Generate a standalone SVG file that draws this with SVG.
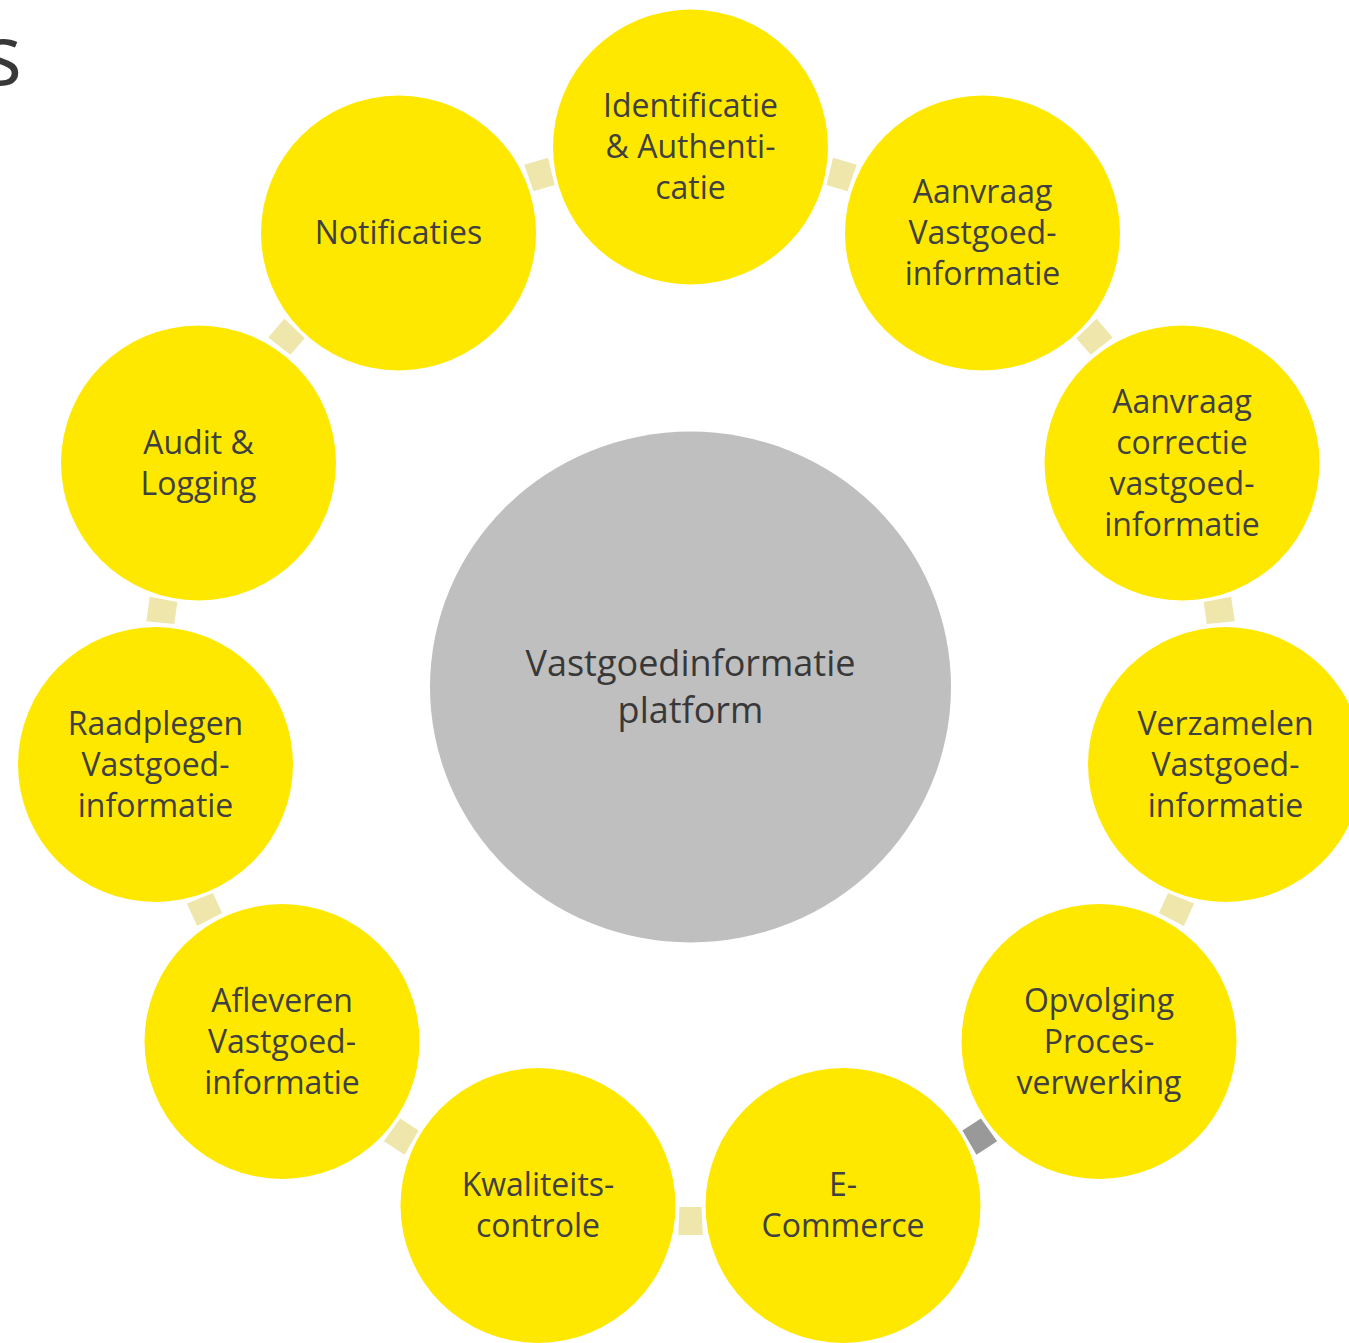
<svg xmlns="http://www.w3.org/2000/svg" xmlns:xlink="http://www.w3.org/1999/xlink" width="1349" height="1343" viewBox="0 0 1349 1343">
<style>
.node{fill:#FFE800;}
.hub{fill:#BFBFBF;}
.lbl{font-family:"Open Sans","Noto Sans","DejaVu Sans",sans-serif;font-size:32px;fill:#404040;text-anchor:middle;}
.hublbl{font-family:"Open Sans","Noto Sans","DejaVu Sans",sans-serif;font-size:36px;fill:#383838;text-anchor:middle;}
.conn{fill:#EEE6AA;}
.conn.gray{fill:#999999;}
.title{font-family:"Open Sans","Noto Sans","DejaVu Sans",sans-serif;font-size:84px;fill:#383838;text-anchor:end;}
</style>
<defs>
<polygon id="c" points="679.5,1207 701.5,1207 702.8,1235 678.2,1235"/>
</defs>
<rect width="1349" height="1343" fill="#FFFFFF"/>
<text class="title" x="22" y="85">s</text>
<g id="connectors">
<use xlink:href="#c" class="conn" transform="rotate(-163.64 690.5 687)"/>
<use xlink:href="#c" class="conn" transform="rotate(-130.91 690.5 687)"/>
<use xlink:href="#c" class="conn" transform="rotate(-98.18 690.5 687)"/>
<use xlink:href="#c" class="conn" transform="rotate(-65.45 690.5 687)"/>
<use xlink:href="#c" class="conn gray" transform="rotate(-32.73 690.5 687)"/>
<use xlink:href="#c" class="conn" transform="rotate(0 690.5 687)"/>
<use xlink:href="#c" class="conn" transform="rotate(32.73 690.5 687)"/>
<use xlink:href="#c" class="conn" transform="rotate(65.45 690.5 687)"/>
<use xlink:href="#c" class="conn" transform="rotate(98.18 690.5 687)"/>
<use xlink:href="#c" class="conn" transform="rotate(130.91 690.5 687)"/>
<use xlink:href="#c" class="conn" transform="rotate(163.64 690.5 687)"/>
</g>
<g id="hub">
<ellipse class="hub" cx="690.5" cy="687" rx="260.5" ry="255.5"/>
<text class="hublbl"><tspan x="690.5" y="676">Vastgoedinformatie</tspan><tspan x="690.5" y="723">platform</tspan></text>
</g>
<g id="n0">
<circle class="node" cx="690.5" cy="147" r="137.5"/>
<text class="lbl"><tspan x="690.5" y="117">Identificatie</tspan><tspan x="690.5" y="158">&amp; Authenti-</tspan><tspan x="690.5" y="199">catie</tspan></text>
</g>
<g id="n1">
<circle class="node" cx="982.5" cy="233" r="137.5"/>
<text class="lbl"><tspan x="982.5" y="203">Aanvraag</tspan><tspan x="982.5" y="244">Vastgoed-</tspan><tspan x="982.5" y="285">informatie</tspan></text>
</g>
<g id="n2">
<circle class="node" cx="1182" cy="463" r="137.5"/>
<text class="lbl"><tspan x="1182" y="412.5">Aanvraag</tspan><tspan x="1182" y="453.5">correctie</tspan><tspan x="1182" y="494.5">vastgoed-</tspan><tspan x="1182" y="535.5">informatie</tspan></text>
</g>
<g id="n3">
<circle class="node" cx="1225.5" cy="764.5" r="137.5"/>
<text class="lbl"><tspan x="1225.5" y="734.5">Verzamelen</tspan><tspan x="1225.5" y="775.5">Vastgoed-</tspan><tspan x="1225.5" y="816.5">informatie</tspan></text>
</g>
<g id="n4">
<circle class="node" cx="1099" cy="1041.5" r="137.5"/>
<text class="lbl"><tspan x="1099" y="1011.5">Opvolging</tspan><tspan x="1099" y="1052.5">Proces-</tspan><tspan x="1099" y="1093.5">verwerking</tspan></text>
</g>
<g id="n5">
<circle class="node" cx="843" cy="1205.5" r="137.5"/>
<text class="lbl"><tspan x="843" y="1196">E-</tspan><tspan x="843" y="1237">Commerce</tspan></text>
</g>
<g id="n6">
<circle class="node" cx="538" cy="1205.5" r="137.5"/>
<text class="lbl"><tspan x="538" y="1196">Kwaliteits-</tspan><tspan x="538" y="1237">controle</tspan></text>
</g>
<g id="n7">
<circle class="node" cx="282" cy="1041.5" r="137.5"/>
<text class="lbl"><tspan x="282" y="1011.5">Afleveren</tspan><tspan x="282" y="1052.5">Vastgoed-</tspan><tspan x="282" y="1093.5">informatie</tspan></text>
</g>
<g id="n8">
<circle class="node" cx="155.5" cy="764.5" r="137.5"/>
<text class="lbl"><tspan x="155.5" y="734.5">Raadplegen</tspan><tspan x="155.5" y="775.5">Vastgoed-</tspan><tspan x="155.5" y="816.5">informatie</tspan></text>
</g>
<g id="n9">
<circle class="node" cx="198.5" cy="463" r="137.5"/>
<text class="lbl"><tspan x="198.5" y="453.5">Audit &amp;</tspan><tspan x="198.5" y="494.5">Logging</tspan></text>
</g>
<g id="n10">
<circle class="node" cx="398.5" cy="233" r="137.5"/>
<text class="lbl"><tspan x="398.5" y="244">Notificaties</tspan></text>
</g>
</svg>
